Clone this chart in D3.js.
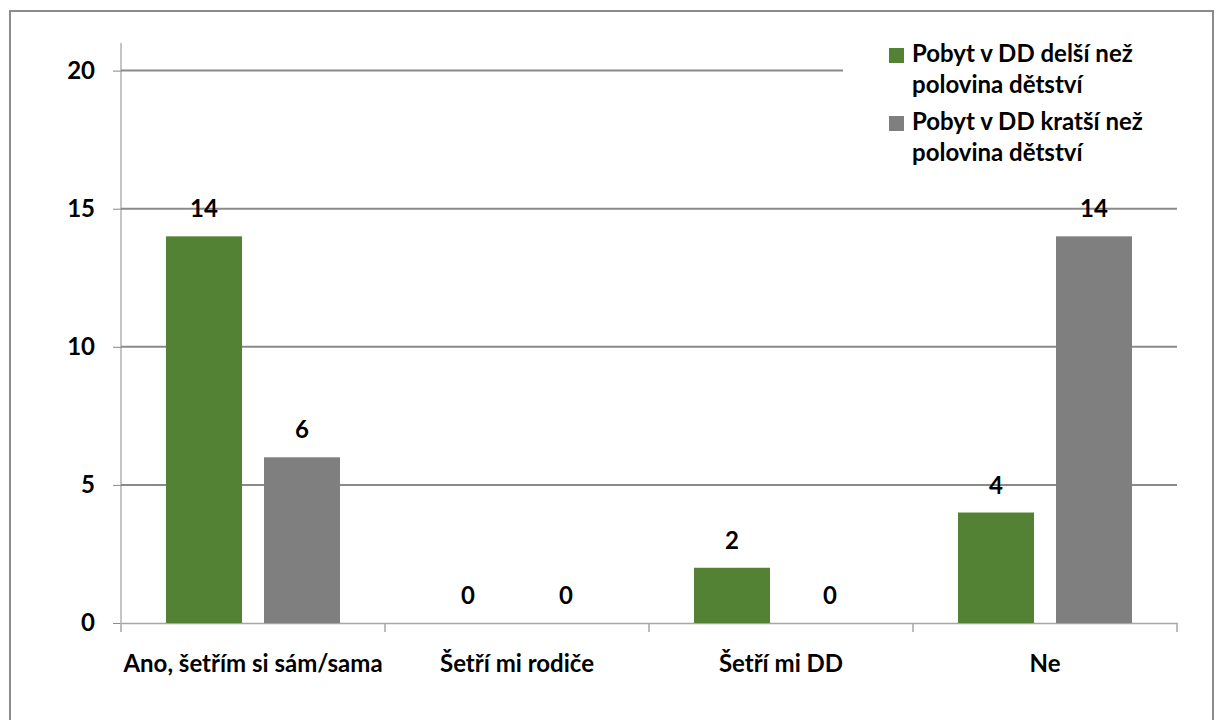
<!DOCTYPE html>
<html>
<head>
<meta charset="utf-8">
<script src="https://cdn.jsdelivr.net/npm/d3@7"></script>
<style>
  body { margin: 0; background: white; }
  text { font-family: Lato, "Noto Sans", sans-serif; font-weight: bold; fill: #000; }
</style>
</head>
<body>
<div id="container"></div>
<script>
// chart data
const categories = ["Ano, šetřím si sám/sama", "Šetří mi rodiče", "Šetří mi DD", "Ne"];
const seriesNames = [["Pobyt v DD delší než", "polovina dětství"], ["Pobyt v DD kratší než", "polovina dětství"]];
const longerValues = [14, 0, 2, 4];
const shorterValues = [6, 0, 0, 14];
const yTicks = [0, 5, 10, 15, 20];

const seriesColors = ["#548235", "#7f7f7f"];

const chartWidth = 1221, chartHeight = 720;
const plotLeft = 121, plotRight = 1177, plotTop = 43, plotBottom = 623;
const fontSize = "24px";

let svg = d3.select("#container").append("svg")
  .attr("width", chartWidth)
  .attr("height", chartHeight);

// outer frame
svg.append("rect")
  .attr("x", 10).attr("y", 11)
  .attr("width", 1203).attr("height", 760)
  .attr("fill", "white")
  .attr("stroke", "#8c8c8c")
  .attr("stroke-width", 2);

let y = d3.scaleLinear().domain([0, 21]).range([plotBottom, plotTop]);
let x0 = d3.scaleBand().domain(categories).range([plotLeft, plotRight]);
// two bars of 76px with a 22px gap, centred in each 264px category
let x1 = d3.scaleBand().domain([0, 1]).range([45, 264 - 45]).paddingInner(22 / 98);

// gridlines (the top one is cut by the legend)
svg.selectAll(".grid").data(yTicks.filter(d => d > 0)).enter().append("line")
  .attr("class", "grid")
  .attr("x1", plotLeft)
  .attr("x2", d => d == 20 ? 843 : plotRight)
  .attr("y1", d => y(d)).attr("y2", d => y(d))
  .attr("stroke", "#8a8a8a")
  .attr("stroke-width", 2);

// y axis
let yAxis = svg.append("g")
  .attr("transform", "translate(" + plotLeft + ",0)")
  .call(d3.axisLeft(y).tickValues(yTicks).tickSize(8).tickPadding(18));
yAxis.select(".domain").attr("d", "M0," + plotTop + "V" + plotBottom);
yAxis.selectAll("line, path").attr("stroke", "#8a8a8a");
yAxis.selectAll("text").style("font-size", fontSize).attr("font-family", null).attr("fill", "#000");

// x axis
let xAxis = svg.append("g")
  .attr("transform", "translate(0," + plotBottom + ")")
  .call(d3.axisBottom(x0).tickSize(0).tickPadding(32));
xAxis.select(".domain").attr("stroke", "#a6a6a6").attr("stroke-width", 1.5);
xAxis.selectAll("text").style("font-size", fontSize).attr("font-family", null).attr("fill", "#000");

// category separators
svg.selectAll(".sep").data(d3.range(categories.length + 1)).enter().append("line")
  .attr("class", "sep")
  .attr("x1", i => plotLeft + i * x0.bandwidth())
  .attr("x2", i => plotLeft + i * x0.bandwidth())
  .attr("y1", plotBottom).attr("y2", plotBottom + 9)
  .attr("stroke", "#a6a6a6").attr("stroke-width", 1.5);

// bars
let groups = svg.selectAll(".cat").data(categories).enter().append("g")
  .attr("class", "cat")
  .attr("transform", d => "translate(" + x0(d) + ",0)");

let bars = groups.selectAll(".bar").data((d, i) => [longerValues[i], shorterValues[i]]).enter();

bars.append("rect")
  .attr("x", (d, j) => x1(j))
  .attr("y", d => y(d))
  .attr("width", x1.bandwidth())
  .attr("height", d => plotBottom - y(d))
  .attr("fill", (d, j) => seriesColors[j]);

bars.append("text")
  .attr("x", (d, j) => x1(j) + x1.bandwidth() / 2)
  .attr("y", d => y(d) - 19)
  .attr("text-anchor", "middle")
  .style("font-size", fontSize)
  .text(d => d);

// legend
let legend = svg.selectAll(".legend").data(seriesNames).enter().append("g")
  .attr("class", "legend")
  .attr("transform", (d, i) => "translate(889," + (48 + i * 68) + ")");

legend.append("rect")
  .attr("width", 15).attr("height", 15)
  .attr("fill", (d, i) => seriesColors[i]);

legend.selectAll("text").data(d => d).enter().append("text")
  .attr("x", 23)
  .attr("y", (d, k) => 14 + k * 31)
  .style("font-size", fontSize)
  .text(d => d);
</script>
</body>
</html>
